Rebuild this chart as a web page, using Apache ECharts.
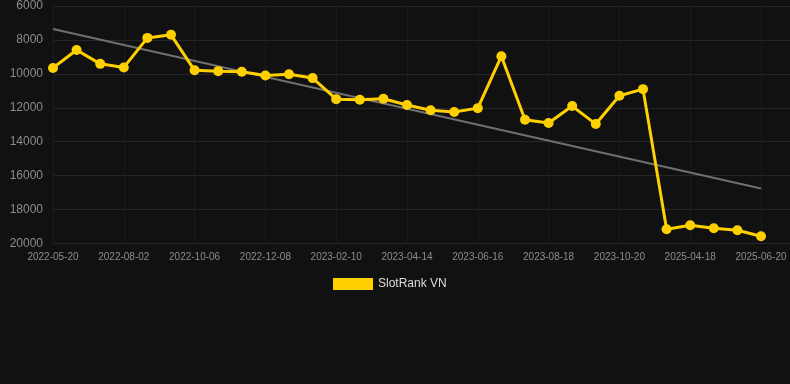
<!DOCTYPE html>
<html>
<head>
<meta charset="utf-8">
<script src="https://cdn.jsdelivr.net/npm/echarts@6/dist/echarts.min.js"></script>
<style>
html,body{margin:0;padding:0;background:#111111;}
#chart{width:790px;height:384px;}
</style>
</head>
<body>
<div id="chart"></div>
<script>
const categories = [
  '2022-05-20','2022-06-13','2022-07-08','2022-08-02','2022-08-24','2022-09-15',
  '2022-10-06','2022-10-27','2022-11-17','2022-12-08','2022-12-30','2023-01-20',
  '2023-02-10','2023-03-03','2023-03-24','2023-04-14','2023-05-05','2023-05-26',
  '2023-06-16','2023-07-07','2023-07-28','2023-08-18','2023-09-08','2023-09-29',
  '2023-10-20','2023-11-10','2025-03-28','2025-04-18','2025-05-09','2025-05-30',
  '2025-06-20'
];
const rankValues = [
  9650, 8590, 9410, 9620, 7880, 7700,
  9790, 9840, 9880, 10100, 10020, 10250,
  11490, 11530, 11470, 11840, 12140, 12250,
  12020, 8960, 12700, 12900, 11900, 12960,
  11290, 10900, 19160, 18920, 19100, 19220,
  19570
];
const trendStart = 7350;
const trendEnd = 16760;
const yTicks = { min: 6000, max: 20000, interval: 2000 };

const trendData = categories.map((c, i) => i === 0 ? trendStart : (i === categories.length - 1 ? trendEnd : null));

const chart = echarts.init(document.getElementById('chart'), null, { renderer: 'canvas' });
const gridTop = 6, gridBottom = 140.5, gridLeft = 53;
const font = 'Liberation Sans, Arial, sans-serif';
chart.setOption({
  backgroundColor: '#111111',
  animation: false,
  grid: [
    { left: gridLeft, right: 29, top: gridTop, bottom: gridBottom },
    { left: gridLeft, right: 0, top: gridTop, bottom: gridBottom }
  ],
  legend: {
    data: [{ name: 'SlotRank VN', icon: 'rect' }],
    left: 328, top: 273,
    itemWidth: 40, itemHeight: 12, itemGap: 10,
    textStyle: { color: '#dddddd', fontSize: 12, fontFamily: font }
  },
  xAxis: [
    {
      gridIndex: 0,
      type: 'category',
      data: categories,
      boundaryGap: false,
      axisLine: { show: false },
      axisTick: { show: false },
      axisLabel: { interval: 2, color: '#8c8c8c', fontSize: 10, margin: 9, fontFamily: font },
      splitLine: { show: true, interval: 2, lineStyle: { color: '#1c1c1c', width: 1 } }
    },
    { gridIndex: 1, type: 'value', show: false, min: 0, max: 1 }
  ],
  yAxis: [
    {
      gridIndex: 0,
      type: 'value',
      inverse: true,
      min: yTicks.min, max: yTicks.max, interval: yTicks.interval,
      axisLine: { show: false },
      axisTick: { show: false },
      axisLabel: { color: '#8c8c8c', fontSize: 12, margin: 10, fontFamily: font, formatter: v => String(v) },
      splitLine: { show: false }
    },
    {
      gridIndex: 1,
      type: 'value',
      inverse: true,
      min: yTicks.min, max: yTicks.max, interval: yTicks.interval,
      axisLine: { show: false },
      axisTick: { show: false },
      axisLabel: { show: false },
      splitLine: { show: true, lineStyle: { color: '#262626', width: 1 } }
    }
  ],
  series: [
    {
      name: 'Trend',
      type: 'line',
      xAxisIndex: 0, yAxisIndex: 0,
      data: trendData,
      connectNulls: true,
      showSymbol: false,
      symbol: 'none',
      lineStyle: { color: '#707070', width: 2 },
      silent: true,
      z: 1
    },
    {
      name: 'SlotRank VN',
      type: 'line',
      xAxisIndex: 0, yAxisIndex: 0,
      data: rankValues,
      symbol: 'circle',
      symbolSize: 10,
      itemStyle: { color: '#FFD000' },
      lineStyle: { color: '#FFD000', width: 3 },
      z: 3
    }
  ]
});
</script>
</body>
</html>
